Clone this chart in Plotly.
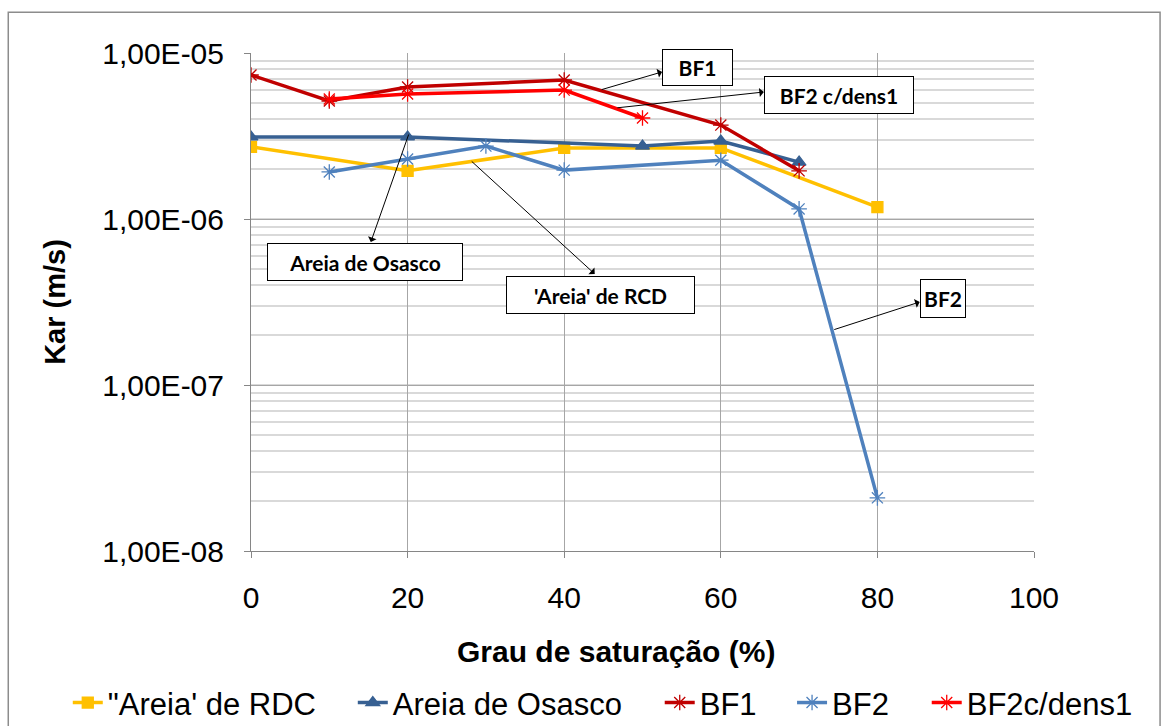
import plotly.graph_objects as go

# Degree of saturation (%) and air permeability Kar (m/s) for each material
x_rdc = [0, 20, 40, 60, 80]
k_rdc = [2.72e-6, 1.95e-6, 2.68e-6, 2.68e-6, 1.18e-6]

x_osasco = [0, 20, 50, 60, 70]
k_osasco = [3.12e-6, 3.12e-6, 2.75e-6, 2.95e-6, 2.20e-6]

x_bf1 = [0, 10, 20, 40, 60, 70]
k_bf1 = [7.37e-6, 5.14e-6, 6.24e-6, 6.88e-6, 3.68e-6, 1.95e-6]

x_bf2 = [10, 20, 30, 40, 60, 70, 80]
k_bf2 = [1.92e-6, 2.30e-6, 2.75e-6, 1.97e-6, 2.26e-6, 1.15e-6, 2.09e-8]

x_bf2d = [10, 20, 40, 50]
k_bf2d = [5.28e-6, 5.66e-6, 5.98e-6, 4.06e-6]

y_tickvals = [1e-8, 1e-7, 1e-6, 1e-5]
y_ticktext = ["1,00E-08", "1,00E-07", "1,00E-06", "1,00E-05"]
x_tickvals = [0, 20, 40, 60, 80, 100]

# name, x, y, colour, marker, marker size, legend id, legend x (paper)
series = [
    ("\"Areia' de RDC", x_rdc, k_rdc, "#FFC000", "square", 11, "legend", -0.234),
    ("Areia de Osasco", x_osasco, k_osasco, "#376092", "triangle-up", 12, "legend2", 0.130),
    ("BF1", x_bf1, k_bf1, "#C00000", "asterisk-open", 13, "legend3", 0.522),
    ("BF2", x_bf2, k_bf2, "#4F81BD", "asterisk-open", 13, "legend4", 0.691),
    ("BF2c/dens1", x_bf2d, k_bf2d, "#FF0000", "asterisk-open", 13, "legend5", 0.863),
]

fig = go.Figure()
legend_layouts = {}
for name, xs, ys, color, sym, size, leg, lx in series:
    fig.add_trace(go.Scatter(
        x=xs, y=ys, name=name, mode="lines+markers", legend=leg,
        line=dict(color=color, width=3.5),
        marker=dict(symbol=sym, size=size, color=color,
                    line=dict(color=color, width=1.3)),
    ))
    legend_layouts[leg] = dict(
        orientation="h", x=lx, xanchor="left", y=-0.305, yanchor="middle",
        font=dict(family="Liberation Sans", size=31), itemwidth=30,
        bgcolor="rgba(0,0,0,0)",
    )

# Callout boxes: (text, x, log10 y, width px, height px)
boxes = [
    ("BF1", 57.02, -5.087, 71, 37),
    ("BF2 c/dens1", 75.10, -5.253, 150, 38),
    ("Areia de Osasco", 14.56, -6.259, 196, 38),
    ("'Areia' de RCD", 44.64, -6.458, 189, 38),
    ("BF2", 88.38, -6.479, 46, 39),
]
# Leader arrows: (tail x, tail log10 y, head x, head log10 y)
arrows = [
    (44.6, -5.223, 52.5, -5.114),
    (46.6, -5.331, 65.5, -5.235),
    (20.2, -5.482, 15.3, -6.139),
    (28.0, -5.645, 43.9, -6.331),
    (74.3, -6.669, 85.4, -6.500),
]

annotations = []
for tx, ty, hx, hy in arrows:
    annotations.append(dict(
        x=hx, y=hy, ax=tx, ay=ty, xref="x", yref="y", axref="x", ayref="y",
        text="", showarrow=True, arrowhead=1, arrowsize=1.5, arrowwidth=1,
        arrowcolor="black", standoff=0,
    ))
for text, bx, by, w, h in boxes:
    annotations.append(dict(
        x=bx, y=by, xref="x", yref="y", text="<b>%s</b>" % text,
        showarrow=False, font=dict(family="Lato", size=21, color="black"),
        bgcolor="white", bordercolor="black", borderwidth=1, borderpad=0,
        width=w - 2, height=h - 2, align="center", valign="middle",
    ))
# X axis title
annotations.append(dict(
    x=0.466, y=-0.201, xref="paper", yref="paper", xanchor="center",
    yanchor="middle", showarrow=False, text="<b>Grau de saturação (%)</b>",
    font=dict(size=30, family="Liberation Sans", color="black"),
))

fig.update_layout(
    width=1163, height=726,
    margin=dict(l=251, r=129, t=53, b=175, autoexpand=False),
    paper_bgcolor="white", plot_bgcolor="white",
    font=dict(family="Liberation Sans", color="black"),
    annotations=annotations,
    showlegend=True,
    shapes=[dict(type="rect", xref="paper", yref="paper",
                 x0=-0.310, x1=1.161, y0=-0.36, y1=1.082,
                 line=dict(color="#8C8C8C", width=1.5), layer="below")],
    **legend_layouts,
)
fig.update_xaxes(
    range=[0, 100], tickvals=x_tickvals, showgrid=True, gridcolor="#A6A6A6",
    gridwidth=1, showline=True, linecolor="#868686", linewidth=1,
    ticks="outside", ticklen=6, tickcolor="#868686", zeroline=False,
    tickfont=dict(size=30, family="Liberation Sans"), ticklabelstandoff=14,
    automargin=False,
)
fig.update_yaxes(
    type="log", range=[-8, -5], tickvals=y_tickvals, ticktext=y_ticktext,
    showgrid=True, gridcolor="#A6A6A6", gridwidth=1,
    showline=True, linecolor="#868686", linewidth=1,
    ticks="outside", ticklen=6, tickcolor="#868686",
    tickfont=dict(size=30, family="Liberation Sans"), ticklabelstandoff=14,
    minor=dict(dtick="D1", showgrid=True, gridcolor="#D9D9D9", gridwidth=1.5),
    title=dict(text="<b>Kar (m/s)</b>",
               font=dict(size=29, family="Liberation Sans"), standoff=28),
    automargin=False,
)

fig.write_html("out.html")
